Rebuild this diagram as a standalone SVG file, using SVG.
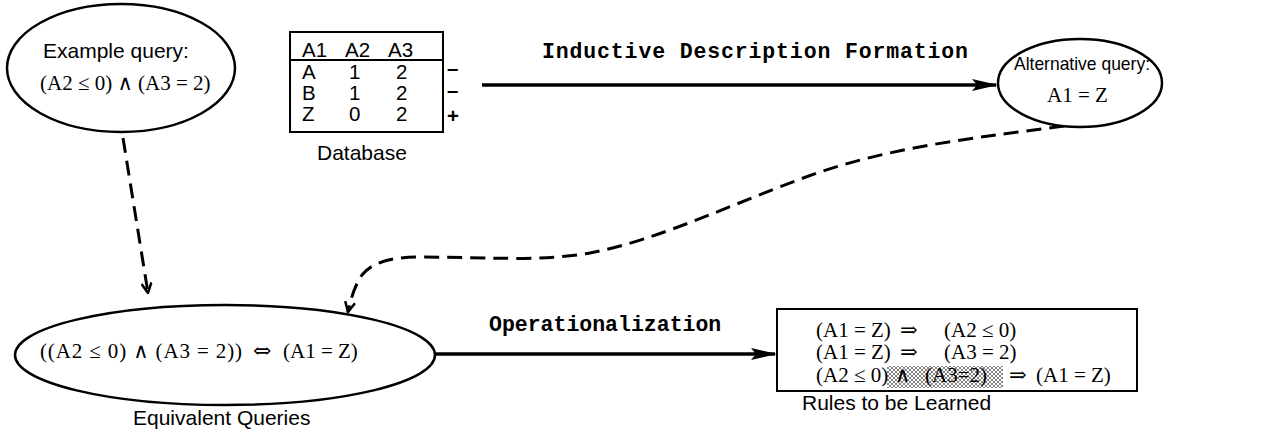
<svg xmlns="http://www.w3.org/2000/svg" width="1264" height="440" viewBox="0 0 1264 440">
<style>
.sans{font-family:"Liberation Sans",Arial,sans-serif;fill:#000}
.serif{font-family:"Liberation Serif","DejaVu Serif",serif;fill:#000}
.sym{font-family:"DejaVu Serif","Liberation Serif",serif}
.mono{font-family:"Liberation Mono","Courier New",monospace;font-weight:bold;fill:#000}
.shape{fill:#fff;stroke:#000;stroke-width:2.5}
.solid{fill:none;stroke:#000;stroke-width:3.5}
.dash{fill:none;stroke:#000;stroke-width:3;stroke-dasharray:15 8}
</style>
<defs>
<marker id="head" viewBox="0 0 26 14" refX="24" refY="7" markerWidth="26" markerHeight="14" markerUnits="userSpaceOnUse" orient="auto">
<path d="M0,1 L26,7 L0,13 L5,7 z" fill="#000"/>
</marker>
<marker id="open" viewBox="0 0 12 12" refX="11" refY="6" markerWidth="12" markerHeight="12" markerUnits="userSpaceOnUse" orient="auto">
<path d="M1,1 L11,6 L1,11" fill="none" stroke="#000" stroke-width="2.5"/>
</marker>
<pattern id="hatch" width="4" height="4" patternUnits="userSpaceOnUse">
<rect width="4" height="4" fill="#fff"/>
<path d="M0,0 L4,4 M4,0 L0,4" stroke="#777" stroke-width="0.9"/>
</pattern>
</defs>

<g id="connectors">
<line class="solid" x1="482" y1="85" x2="996" y2="85" marker-end="url(#head)"/>
<line class="solid" x1="436" y1="354" x2="775" y2="354" marker-end="url(#head)"/>
<path class="dash" d="M123,138 L148,293" marker-end="url(#open)"/>
<path class="dash" d="M1064,126 C990,136 900,145 820,172 C740,200 660,240 590,253 C540,262 480,257 420,257 C385,257 370,265 362,275 C355,285 351,298 348,312" marker-end="url(#open)"/>
<text class="mono" x="542" y="58" font-size="21.5" textLength="426" lengthAdjust="spacing">Inductive Description Formation</text>
<text class="mono" x="489" y="331" font-size="21.5">Operationalization</text>
</g>

<g id="example-query">
<ellipse class="shape" cx="121" cy="68" rx="114" ry="64"/>
<text class="sans" x="43" y="58" font-size="21">Example query:</text>
<text class="serif" x="40" y="90" font-size="21">(A2 ≤ 0) ∧ (A3 = 2)</text>
</g>

<g id="database">
<rect x="290" y="32" width="153" height="100" fill="#fff" stroke="#000" stroke-width="2"/>
<line x1="290" y1="60" x2="443" y2="60" stroke="#000" stroke-width="2"/>
<g class="sans" font-size="20.5">
<text x="302" y="57">A1</text><text x="345" y="57">A2</text><text x="388" y="57">A3</text>
<text x="302" y="79">A</text><text x="349" y="79">1</text><text x="396" y="79">2</text>
<text x="302" y="100">B</text><text x="349" y="100">1</text><text x="396" y="100">2</text>
<text x="302" y="121">Z</text><text x="349" y="121">0</text><text x="396" y="121">2</text>
<text x="447" y="75" font-weight="bold">–</text><text x="447" y="97" font-weight="bold">–</text><text x="447" y="123" font-weight="bold">+</text>
</g>
<text class="sans" x="317" y="160" font-size="21">Database</text>
</g>

<g id="alternative-query">
<ellipse class="shape" cx="1080" cy="83" rx="82" ry="44"/>
<text class="sans" x="1014" y="70" font-size="19" textLength="136" lengthAdjust="spacingAndGlyphs">Alternative query:</text>
<text class="serif" x="1047" y="102" font-size="21">A1 = Z</text>
</g>

<g id="equivalent-queries">
<ellipse class="shape" cx="225" cy="355" rx="210" ry="50"/>
<text class="serif" x="40" y="358" font-size="21" textLength="202" lengthAdjust="spacing">((A2 ≤ 0) ∧ (A3 = 2))</text>
<text class="serif sym" x="253" y="358" font-size="22">⇔</text>
<text class="serif" x="283" y="358" font-size="21">(A1 = Z)</text>
<text class="sans" x="133" y="425" font-size="21">Equivalent Queries</text>
</g>

<g id="rules">
<rect x="777" y="309" width="360" height="82" fill="#fff" stroke="#000" stroke-width="2"/>
<rect x="887" y="366" width="116" height="22" fill="url(#hatch)"/>
<text class="serif" x="816" y="337" font-size="21">(A1 = Z)</text>
<text class="serif sym" x="900" y="337" font-size="21">⇒</text>
<text class="serif" x="944" y="337" font-size="21">(A2 ≤ 0)</text>
<text class="serif" x="816" y="359" font-size="21">(A1 = Z)</text>
<text class="serif sym" x="900" y="359" font-size="21">⇒</text>
<text class="serif" x="944" y="359" font-size="21">(A3 = 2)</text>
<text class="serif" x="816" y="382" font-size="21">(A2 ≤ 0)</text>
<text class="serif" x="895" y="382" font-size="21">∧</text>
<text class="serif" x="925" y="382" font-size="21">(A3=2)</text>
<text class="serif sym" x="1009" y="382" font-size="21">⇒</text>
<text class="serif" x="1036" y="382" font-size="21">(A1 = Z)</text>
<text class="sans" x="802" y="410" font-size="21">Rules to be Learned</text>
</g>
</svg>
